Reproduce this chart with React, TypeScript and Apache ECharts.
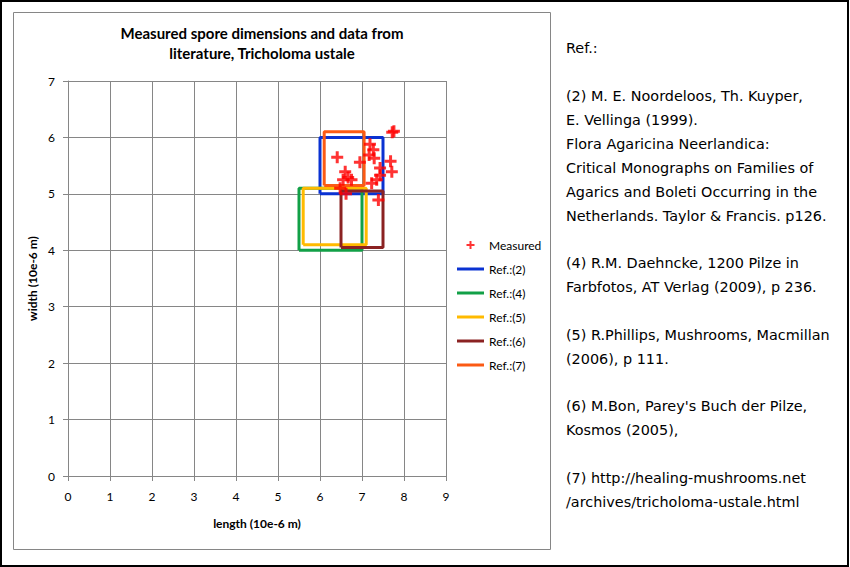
import React, { useEffect, useRef } from "react";
import * as echarts from "echarts";

// ---- data ----
const titleText = "Measured spore dimensions and data from\nliterature, Tricholoma ustale";
const xAxisName = "length (10e-6 m)";
const yAxisName = "width (10e-6 m)";

// measured spores [length, width]
const measuredLength = [7.72, 7.76, 6.41, 7.19, 7.27, 7.17, 7.29, 6.95, 7.68, 7.71, 7.43, 7.43, 6.6, 6.67, 6.55, 6.75, 7.23, 7.35, 6.48, 7.39, 6.62];
const measuredWidth = [6.09, 6.11, 5.65, 5.88, 5.78, 5.69, 5.63, 5.56, 5.58, 5.39, 5.46, 5.33, 5.39, 5.29, 5.25, 5.25, 5.19, 5.25, 5.1, 4.89, 5.0];

// literature ranges
const refNames = ["Ref.:(2)", "Ref.:(4)", "Ref.:(5)", "Ref.:(6)", "Ref.:(7)"];
const refLengthMin = [6.0, 5.5, 5.6, 6.5, 6.1];
const refLengthMax = [7.5, 7.0, 7.1, 7.5, 7.05];
const refWidthMin = [5.0, 4.0, 4.1, 4.05, 5.15];
const refWidthMax = [6.0, 5.1, 5.1, 5.05, 6.1];
const refColors = ["#0a32d2", "#12a047", "#ffba00", "#8b2222", "#fb5a14"];

const refText = [
  "Ref.:",
  "",
  "(2) M. E. Noordeloos, Th. Kuyper,",
  "E. Vellinga (1999).",
  "Flora Agaricina Neerlandica:",
  "Critical Monographs on Families of",
  "Agarics and Boleti Occurring in the",
  "Netherlands. Taylor & Francis. p126.",
  "",
  "(4) R.M. Daehncke, 1200 Pilze in",
  "Farbfotos, AT Verlag (2009), p 236.",
  "",
  "(5) R.Phillips, Mushrooms, Macmillan",
  "(2006), p 111.",
  "",
  "(6) M.Bon, Parey's Buch der Pilze,",
  "Kosmos (2005),",
  "",
  "(7) http://healing-mushrooms.net",
  "/archives/tricholoma-ustale.html",
];

const plusPath = "path://M3.75,0H6.25V3.75H10V6.25H6.25V10H3.75V6.25H0V3.75H3.75Z";
const lineIconPath = "path://M0,0H27V3H0Z";
const FONT = "Lato, 'Open Sans', sans-serif";

export default function App() {
  const ref = useRef<HTMLDivElement>(null);
  useEffect(() => {
    if (!ref.current) return;
    const chart = echarts.init(ref.current, undefined, { renderer: "svg" });
    const measured = measuredLength.map((x, i) => [x, measuredWidth[i]]);
    const rectSeries = refNames.map((name, i) => ({
      name,
      type: "line",
      symbol: "none",
      z: 2,
      color: refColors[i],
      itemStyle: { color: refColors[i] },
      lineStyle: { color: refColors[i], width: 3 },
      data: [
        [refLengthMin[i], refWidthMin[i]],
        [refLengthMax[i], refWidthMin[i]],
        [refLengthMax[i], refWidthMax[i]],
        [refLengthMin[i], refWidthMax[i]],
        [refLengthMin[i], refWidthMin[i]],
      ],
    }));
    const gray = "#868686";
    chart.setOption({
      animation: false,
      backgroundColor: "#ffffff",
      title: {
        text: titleText,
        left: 257,
        top: 18,
        textAlign: "center",
        textStyle: { fontFamily: FONT, fontSize: 15, fontWeight: "bold", color: "#000", lineHeight: 20 },
      },
      grid: { left: 68, top: 81, right: 404, bottom: 91, containLabel: false },
      xAxis: {
        type: "value",
        min: 0,
        max: 9,
        interval: 1,
        name: xAxisName,
        nameLocation: "middle",
        nameGap: 41,
        nameTextStyle: { fontFamily: FONT, fontSize: 12, fontWeight: "bold", color: "#000" },
        axisLine: { show: true, lineStyle: { color: gray } },
        axisTick: { show: true, length: 5, lineStyle: { color: gray } },
        axisLabel: { margin: 14, fontFamily: FONT, fontSize: 12, color: "#000" },
        splitLine: { show: true, lineStyle: { color: gray, width: 1 } },
      },
      yAxis: {
        type: "value",
        min: 0,
        max: 7,
        interval: 1,
        name: yAxisName,
        nameLocation: "middle",
        nameGap: 30,
        nameTextStyle: { fontFamily: FONT, fontSize: 12, fontWeight: "bold", color: "#000" },
        axisLine: { show: true, lineStyle: { color: gray } },
        axisTick: { show: true, length: 5, lineStyle: { color: gray } },
        axisLabel: { margin: 13, fontFamily: FONT, fontSize: 12, color: "#000" },
        splitLine: { show: true, lineStyle: { color: gray, width: 1 } },
      },
      legend: {
        orient: "vertical",
        left: 457,
        top: 238,
        padding: 0,
        itemWidth: 27,
        itemHeight: 8,
        itemGap: 10,
        textStyle: { fontFamily: FONT, fontSize: 12, color: "#000", lineHeight: 14 },
        data: [
          { name: "Measured", icon: plusPath },
          ...refNames.map((n) => ({ name: n, icon: lineIconPath })),
        ],
      },
      graphic: [
        {
          type: "rect",
          shape: { x: 1, y: 1, width: 847, height: 565 },
          style: { fill: "none", stroke: "#000", lineWidth: 2 },
          silent: true,
        },
        {
          type: "rect",
          shape: { x: 13.5, y: 12.5, width: 537, height: 537 },
          style: { fill: "none", stroke: gray, lineWidth: 1 },
          silent: true,
        },
        {
          type: "text",
          x: 566,
          y: 36.5,
          style: {
            text: refText.join("\n"),
            fontFamily: "'DejaVu Sans', sans-serif",
            fontSize: 14.4,
            lineHeight: 23.87,
            fill: "#000",
          },
          silent: true,
        },
      ],
      series: [
        {
          name: "Measured",
          type: "scatter",
          symbol: plusPath,
          symbolSize: 12,
          z: 3,
          itemStyle: { color: "#ff0000" },
          data: measured,
        },
        ...rectSeries,
      ],
    });
    return () => chart.dispose();
  }, []);
  return (
    <div
      ref={ref}
      style={{ position: "absolute", left: 0, top: 0, width: 850, height: 567 }}
    />
  );
}
